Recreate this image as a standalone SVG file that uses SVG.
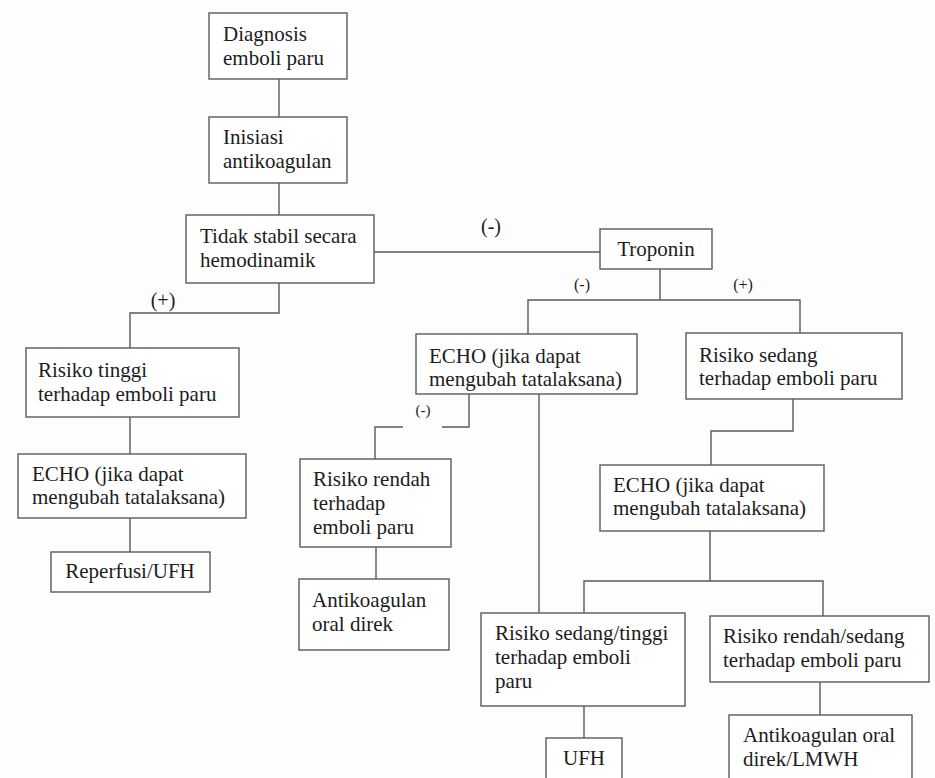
<svg xmlns="http://www.w3.org/2000/svg" width="935" height="778" viewBox="0 0 935 778">
<style>
.box{fill:#ffffff;stroke:#5a5a5a;stroke-width:1.4}
.t{font-size:21px;fill:#1c1c1c}
.c{text-anchor:middle}
.lbl{fill:#1c1c1c;text-anchor:middle}
.ln{fill:none;stroke:#5a5a5a;stroke-width:1.4}
</style>
<rect x="0" y="0" width="935" height="778" fill="#fdfdfd"/>
<g font-family="Liberation Serif, Times New Roman, Tinos, DejaVu Serif, serif">
<g id="connectors">
<path class="ln" d="M279,79V117"/>
<path class="ln" d="M279,183V215"/>
<path class="ln" d="M279,283V313H130V348"/>
<path class="ln" d="M374,252H600"/>
<path class="ln" d="M130,417V454"/>
<path class="ln" d="M130,518V552"/>
<path class="ln" d="M660,269V300"/>
<path class="ln" d="M528,334V300H800V333"/>
<path class="ln" d="M469,394V427H442"/>
<path class="ln" d="M403,427H375V459"/>
<path class="ln" d="M539,394V613"/>
<path class="ln" d="M376,547V579"/>
<path class="ln" d="M793,399V431H711V465"/>
<path class="ln" d="M710,531V581"/>
<path class="ln" d="M584,613V581H823V616"/>
<path class="ln" d="M584,706V738"/>
<path class="ln" d="M820,682V715"/>
<text class="lbl" x="163" y="307" font-size="20">(+)</text>
<text class="lbl" x="491" y="233" font-size="20">(-)</text>
<text class="lbl" x="582" y="290" font-size="16">(-)</text>
<text class="lbl" x="743" y="290" font-size="16">(+)</text>
<text class="lbl" x="423" y="415" font-size="15">(-)</text>
</g>
<g id="n1"><rect class="box" x="209" y="13" width="138" height="66"/><text class="t" x="223" y="41">Diagnosis</text><text class="t" x="223" y="65">emboli paru</text></g>
<g id="n2"><rect class="box" x="209" y="117" width="138" height="66"/><text class="t" x="223" y="144">Inisiasi</text><text class="t" x="223" y="168">antikoagulan</text></g>
<g id="n3"><rect class="box" x="186" y="215" width="188" height="68"/><text class="t" x="200" y="243">Tidak stabil secara</text><text class="t" x="200" y="267">hemodinamik</text></g>
<g id="n4"><rect class="box" x="600" y="229" width="112" height="40"/><text class="t c" x="656" y="256">Troponin</text></g>
<g id="n5"><rect class="box" x="26" y="348" width="213" height="69"/><text class="t" x="38" y="377">Risiko tinggi</text><text class="t" x="38" y="401">terhadap emboli paru</text></g>
<g id="n6"><rect class="box" x="416" y="334" width="221" height="60"/><text class="t" x="429" y="363">ECHO (jika dapat</text><text class="t" x="429" y="386">mengubah tatalaksana)</text></g>
<g id="n7"><rect class="box" x="686" y="333" width="216" height="66"/><text class="t" x="699" y="362">Risiko sedang</text><text class="t" x="699" y="385">terhadap emboli paru</text></g>
<g id="n8"><rect class="box" x="18" y="454" width="228" height="64"/><text class="t" x="32" y="481">ECHO (jika dapat</text><text class="t" x="32" y="504">mengubah tatalaksana)</text></g>
<g id="n9"><rect class="box" x="51" y="552" width="159" height="40"/><text class="t c" x="130" y="578">Reperfusi/UFH</text></g>
<g id="n10"><rect class="box" x="300" y="459" width="151" height="88"/><text class="t" x="313" y="486">Risiko rendah</text><text class="t" x="313" y="510">terhadap</text><text class="t" x="313" y="534">emboli paru</text></g>
<g id="n11"><rect class="box" x="299" y="579" width="150" height="71"/><text class="t" x="312" y="607">Antikoagulan</text><text class="t" x="312" y="631">oral direk</text></g>
<g id="n12"><rect class="box" x="600" y="465" width="224" height="66"/><text class="t" x="613" y="492">ECHO (jika dapat</text><text class="t" x="613" y="515">mengubah tatalaksana)</text></g>
<g id="n13"><rect class="box" x="481" y="613" width="204" height="93"/><text class="t" x="495" y="640">Risiko sedang/tinggi</text><text class="t" x="495" y="664">terhadap emboli</text><text class="t" x="495" y="688">paru</text></g>
<g id="n14"><rect class="box" x="710" y="616" width="219" height="66"/><text class="t" x="723" y="643">Risiko rendah/sedang</text><text class="t" x="723" y="667">terhadap emboli paru</text></g>
<g id="n15"><rect class="box" x="546" y="738" width="76" height="60"/><text class="t c" x="584" y="765">UFH</text></g>
<g id="n16"><rect class="box" x="729" y="715" width="183" height="80"/><text class="t" x="743" y="742">Antikoagulan oral</text><text class="t" x="743" y="766">direk/LMWH</text></g>
</g>
</svg>
